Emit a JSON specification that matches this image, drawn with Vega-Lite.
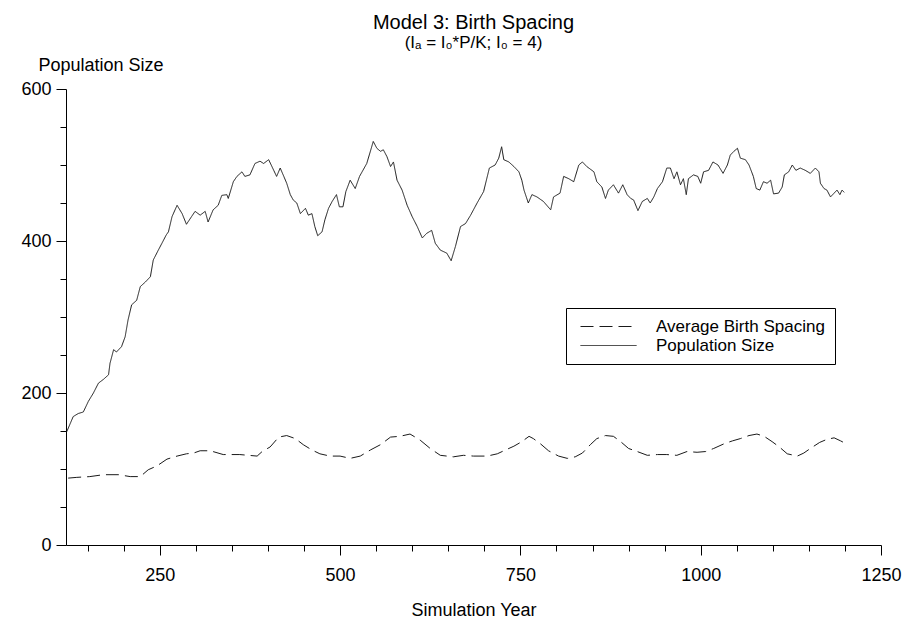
{
  "$schema": "https://vega.github.io/schema/vega-lite/v6.json",
  "width": 815,
  "height": 456,
  "autosize": {"type": "none"},
  "padding": {"left": 66, "top": 89, "right": 21, "bottom": 85},
  "background": "white",
  "config": {
    "font": "Liberation Sans",
    "view": {"stroke": null},
    "axis": {"domainColor": "black", "tickColor": "black", "labelColor": "black", "titleColor": "black", "labelFontSize": 18, "titleFontSize": 18, "titleFontWeight": "normal", "grid": false, "labelFont": "Liberation Sans", "titleFont": "Liberation Sans", "domainWidth": 1, "tickWidth": 1}
  },
  "title": {
    "text": "Model 3: Birth Spacing",
    "subtitle": "(Iₐ = I₀*P/K; I₀ = 4)",
    "frame": "group",
    "anchor": "middle",
    "offset": 5,
    "fontSize": 20,
    "fontWeight": "normal",
    "font": "Liberation Sans",
    "color": "black",
    "subtitleFontSize": 17,
    "subtitleFont": "Liberation Sans",
    "subtitleColor": "black",
    "subtitlePadding": 2
  },
  "datasets": {
    "pop": [
      {"year":121,"value":149},{"year":130,"value":169},{"year":137,"value":173},{"year":144,"value":175},{"year":151,"value":189},{"year":158,"value":200},{"year":165,"value":213},{"year":172,"value":218},{"year":179,"value":224},{"year":181,"value":239},{"year":186,"value":257},{"year":190,"value":254},{"year":197,"value":261},{"year":202,"value":274},{"year":206,"value":296},{"year":211,"value":316},{"year":218,"value":322},{"year":223,"value":340},{"year":230,"value":346},{"year":237,"value":353},{"year":241,"value":375},{"year":248,"value":388},{"year":253,"value":397},{"year":259,"value":408},{"year":262,"value":412},{"year":267,"value":432},{"year":274,"value":447},{"year":281,"value":436},{"year":287,"value":422},{"year":294,"value":432},{"year":299,"value":439},{"year":306,"value":434},{"year":313,"value":439},{"year":317,"value":425},{"year":324,"value":441},{"year":331,"value":447},{"year":336,"value":460},{"year":343,"value":461},{"year":345,"value":456},{"year":352,"value":478},{"year":357,"value":485},{"year":364,"value":491},{"year":368,"value":485},{"year":375,"value":487},{"year":382,"value":502},{"year":389,"value":505},{"year":394,"value":502},{"year":401,"value":507},{"year":408,"value":493},{"year":412,"value":485},{"year":417,"value":496},{"year":422,"value":485},{"year":426,"value":476},{"year":431,"value":461},{"year":435,"value":454},{"year":440,"value":450},{"year":445,"value":436},{"year":452,"value":443},{"year":456,"value":434},{"year":461,"value":436},{"year":465,"value":419},{"year":469,"value":407},{"year":475,"value":412},{"year":479,"value":428},{"year":484,"value":443},{"year":489,"value":452},{"year":495,"value":461},{"year":499,"value":445},{"year":504,"value":445},{"year":508,"value":465},{"year":514,"value":480},{"year":521,"value":469},{"year":527,"value":485},{"year":537,"value":502},{"year":542,"value":518},{"year":546,"value":531},{"year":551,"value":522},{"year":556,"value":518},{"year":560,"value":520},{"year":565,"value":511},{"year":570,"value":498},{"year":574,"value":504},{"year":579,"value":480},{"year":586,"value":467},{"year":593,"value":447},{"year":600,"value":432},{"year":607,"value":419},{"year":614,"value":404},{"year":620,"value":410},{"year":627,"value":414},{"year":632,"value":397},{"year":639,"value":388},{"year":648,"value":384},{"year":654,"value":374},{"year":660,"value":393},{"year":667,"value":419},{"year":674,"value":423},{"year":681,"value":434},{"year":690,"value":450},{"year":699,"value":465},{"year":707,"value":496},{"year":715,"value":500},{"year":720,"value":509},{"year":724,"value":524},{"year":727,"value":507},{"year":734,"value":504},{"year":741,"value":498},{"year":748,"value":491},{"year":752,"value":480},{"year":755,"value":467},{"year":761,"value":450},{"year":766,"value":461},{"year":773,"value":458},{"year":782,"value":452},{"year":792,"value":441},{"year":796,"value":458},{"year":805,"value":463},{"year":810,"value":485},{"year":817,"value":482},{"year":824,"value":478},{"year":831,"value":500},{"year":836,"value":504},{"year":842,"value":498},{"year":852,"value":491},{"year":856,"value":478},{"year":863,"value":471},{"year":868,"value":456},{"year":872,"value":467},{"year":879,"value":474},{"year":886,"value":463},{"year":892,"value":474},{"year":898,"value":461},{"year":903,"value":456},{"year":907,"value":454},{"year":913,"value":440},{"year":919,"value":452},{"year":926,"value":456},{"year":930,"value":450},{"year":935,"value":458},{"year":940,"value":469},{"year":947,"value":478},{"year":953,"value":496},{"year":958,"value":496},{"year":963,"value":482},{"year":967,"value":491},{"year":972,"value":474},{"year":976,"value":482},{"year":980,"value":461},{"year":983,"value":482},{"year":990,"value":487},{"year":996,"value":485},{"year":1000,"value":476},{"year":1004,"value":491},{"year":1011,"value":493},{"year":1017,"value":504},{"year":1024,"value":500},{"year":1031,"value":489},{"year":1037,"value":500},{"year":1041,"value":513},{"year":1046,"value":518},{"year":1051,"value":522},{"year":1055,"value":509},{"year":1062,"value":507},{"year":1067,"value":500},{"year":1073,"value":485},{"year":1077,"value":469},{"year":1082,"value":467},{"year":1087,"value":478},{"year":1092,"value":476},{"year":1097,"value":480},{"year":1101,"value":462},{"year":1108,"value":463},{"year":1113,"value":471},{"year":1116,"value":487},{"year":1122,"value":491},{"year":1127,"value":500},{"year":1132,"value":493},{"year":1138,"value":496},{"year":1145,"value":493},{"year":1152,"value":489},{"year":1159,"value":496},{"year":1164,"value":491},{"year":1166,"value":476},{"year":1171,"value":469},{"year":1175,"value":467},{"year":1180,"value":458},{"year":1185,"value":463},{"year":1189,"value":467},{"year":1193,"value":461},{"year":1196,"value":467},{"year":1199,"value":464}
    ],
    "bs": [
      {"year":123,"value":88},{"year":135,"value":89},{"year":153,"value":90},{"year":172,"value":92.5},{"year":193,"value":92.5},{"year":209,"value":90},{"year":223,"value":90},{"year":234,"value":99},{"year":246,"value":104},{"year":260,"value":113},{"year":274,"value":117},{"year":287,"value":120},{"year":297,"value":121},{"year":306,"value":124},{"year":320,"value":124},{"year":338,"value":119},{"year":361,"value":119},{"year":385,"value":117},{"year":392,"value":123},{"year":403,"value":129},{"year":415,"value":142},{"year":426,"value":144},{"year":438,"value":140},{"year":449,"value":132},{"year":461,"value":125},{"year":472,"value":120},{"year":486,"value":117},{"year":500,"value":117},{"year":514,"value":114},{"year":528,"value":117},{"year":542,"value":125},{"year":556,"value":132},{"year":570,"value":142},{"year":583,"value":143},{"year":597,"value":146},{"year":611,"value":138},{"year":625,"value":127},{"year":639,"value":118},{"year":657,"value":116},{"year":671,"value":118},{"year":685,"value":117},{"year":704,"value":117},{"year":718,"value":120},{"year":727,"value":124},{"year":741,"value":130},{"year":752,"value":136},{"year":762,"value":143},{"year":768,"value":140},{"year":778,"value":133},{"year":789,"value":124},{"year":803,"value":117},{"year":815,"value":114},{"year":826,"value":116},{"year":836,"value":121},{"year":847,"value":132},{"year":856,"value":140},{"year":868,"value":144},{"year":879,"value":143},{"year":889,"value":136},{"year":900,"value":127},{"year":912,"value":123},{"year":926,"value":118},{"year":940,"value":119},{"year":953,"value":119},{"year":967,"value":118},{"year":981,"value":123},{"year":995,"value":122},{"year":1007,"value":123},{"year":1018,"value":127},{"year":1032,"value":133},{"year":1044,"value":137},{"year":1055,"value":140},{"year":1067,"value":144},{"year":1078,"value":146},{"year":1088,"value":143},{"year":1099,"value":136},{"year":1109,"value":129},{"year":1120,"value":120},{"year":1134,"value":117},{"year":1143,"value":121},{"year":1152,"value":127},{"year":1165,"value":135},{"year":1175,"value":139},{"year":1185,"value":141},{"year":1194,"value":137},{"year":1198,"value":135}
    ]
  },
  "encoding": {
    "x": {
      "field": "year", "type": "quantitative",
      "scale": {"domain": [120, 1250], "nice": false, "zero": false},
      "axis": {
        "values": [150,200,250,300,350,400,450,500,550,600,650,700,750,800,850,900,950,1000,1050,1100,1150,1200,1250],
        "format": "d",
        "labelExpr": "datum.value % 250 === 0 ? datum.label : ''",
        "tickSize": {"condition": {"test": "datum.value % 250 === 0", "value": 10}, "value": 6},
        "labelPadding": 11,
        "labelFlush": false,
        "labelOverlap": false,
        "title": "Simulation Year",
        "titlePadding": 17
      }
    },
    "y": {
      "field": "value", "type": "quantitative",
      "scale": {"domain": [0, 600], "nice": false},
      "axis": {
        "values": [0,50,100,150,200,250,300,350,400,450,500,550,600],
        "format": "d",
        "labelExpr": "datum.value % 200 === 0 ? datum.label : ''",
        "tickSize": {"condition": {"test": "datum.value % 200 === 0", "value": 10}, "value": 6},
        "labelPadding": 5,
        "labelOverlap": false,
        "labelFlush": false,
        "title": "Population Size",
        "titleAngle": 0,
        "titleAlign": "left",
        "titleBaseline": "alphabetic",
        "titleX": -28,
        "titleY": -19
      }
    }
  },
  "layer": [
    {
      "data": {"name": "bs"},
      "mark": {"type": "line", "color": "#1a1a1a", "strokeWidth": 1},
      "encoding": {
        "strokeDash": {
          "datum": "Average Birth Spacing",
          "type": "nominal",
          "scale": {"domain": ["Average Birth Spacing", "Population Size"], "range": [[13, 6], [1, 0]]},
          "legend": {
            "orient": "none",
            "legendX": 500,
            "legendY": 219,
            "title": null,
            "direction": "vertical",
            "strokeColor": "black",
            "fillColor": "white",
            "padding": 10,
            "labelFontSize": 17,
            "labelFont": "Liberation Sans",
            "labelColor": "black",
            "labelLimit": 400,
            "symbolType": "M-4,0H4",
            "symbolSize": 196,
            "symbolStrokeColor": "#1a1a1a",
            "symbolFillColor": "transparent",
            "symbolStrokeWidth": 1,
            "symbolOffset": 24,
            "labelOffset": 39,
            "rowPadding": 1
          }
        }
      }
    },
    {
      "data": {"name": "pop"},
      "mark": {"type": "line", "color": "#1a1a1a", "strokeWidth": 1},
      "encoding": {
        "strokeDash": {"datum": "Population Size", "type": "nominal"}
      }
    }
  ]
}
